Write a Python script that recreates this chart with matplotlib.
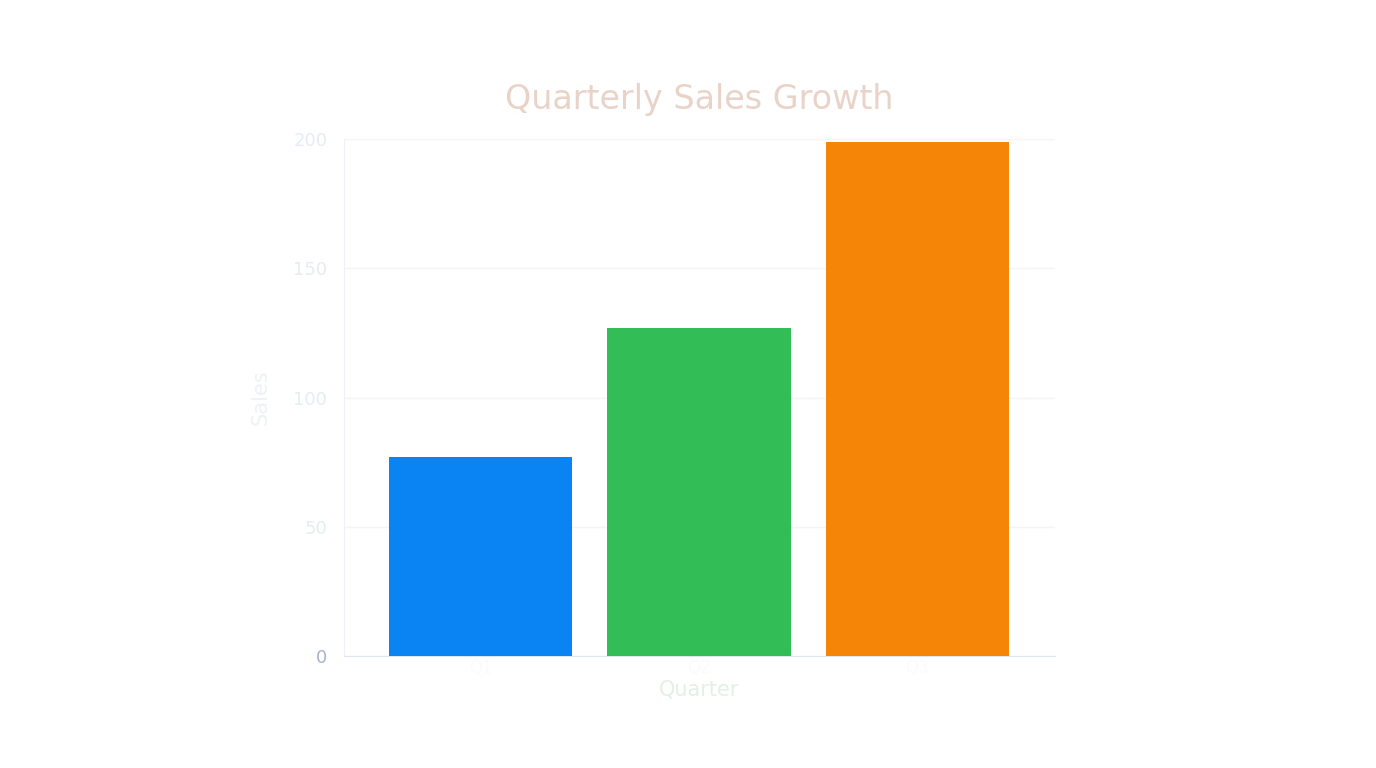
import matplotlib
matplotlib.use("Agg")
import matplotlib.pyplot as plt
import numpy as np

# data
quarters = ["Q1", "Q2", "Q3"]
sales = [77, 127, 199]
colors = ["#0A84F2", "#32BD57", "#F58506"]

yticks = [0, 50, 100, 150, 200]

fig = plt.figure(figsize=(13.76, 7.68), dpi=100)
ax = fig.add_axes([0.25, 0.1458, 0.5167, 0.673])

x = np.arange(len(quarters))
ax.bar(x, sales, width=0.84, color=colors, zorder=3)

ax.set_xlim(-0.625, 2.63)
ax.set_ylim(0, 200)
ax.set_yticks(yticks)
ax.set_xticks(x)
ax.set_xticklabels(quarters, color="#fbfbfb", fontsize=12)
ax.tick_params(axis="y", colors="#e6ecf2", labelsize=13, length=0, pad=12)
ax.tick_params(axis="x", length=0, pad=2)
ax.get_yticklabels()[0].set_color("#a9b4c8")

ax.grid(axis="y", color="#f6f3f0", linewidth=1, zorder=0)
for s in ["top", "right"]:
    ax.spines[s].set_visible(False)
ax.spines["left"].set_color("#eef2f8")
ax.spines["bottom"].set_color("#dde5f0")

ax.set_xlabel("Quarter", color="#e2f0e6", fontsize=15, labelpad=2)
ax.set_ylabel("Sales", color="#eef1f5", fontsize=15, labelpad=16)
ax.set_title("Quarterly Sales Growth", color="#e9d3c8", fontsize=24,
             pad=22)

fig.savefig("out.png", dpi=100)
